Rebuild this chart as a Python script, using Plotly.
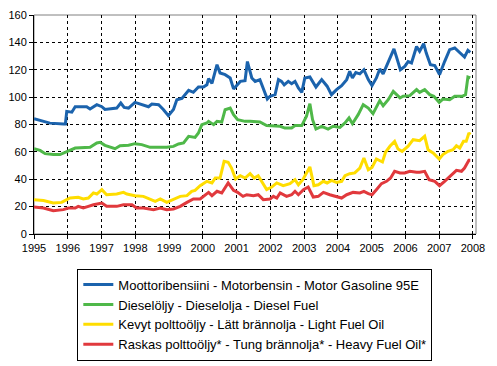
import plotly.graph_objects as go

# Decimal-year positions and values (index)
gas_x = [1995.00, 1995.28, 1995.47, 1995.87, 1995.93, 1995.97, 1996.12, 1996.22, 1996.56, 1996.66,
         1996.86, 1997.01, 1997.10, 1997.45, 1997.57, 1997.67, 1997.80, 1997.99, 1998.24, 1998.39,
         1998.49, 1998.69, 1998.83, 1998.98, 1999.13, 1999.23, 1999.38, 1999.58, 1999.72, 1999.87,
         2000.02, 2000.12, 2000.17, 2000.27, 2000.42, 2000.51, 2000.66, 2000.81, 2000.91, 2001.03,
         2001.11, 2001.25, 2001.32, 2001.45, 2001.55, 2001.69, 2001.79, 2001.91, 2001.99, 2002.14,
         2002.24, 2002.33, 2002.41, 2002.53, 2002.63, 2002.73, 2002.83, 2002.93, 2003.02, 2003.17,
         2003.35, 2003.52, 2003.68, 2003.81, 2003.96, 2004.11, 2004.26, 2004.35, 2004.43, 2004.53,
         2004.65, 2004.77, 2004.90, 2005.01, 2005.14, 2005.24, 2005.34, 2005.49, 2005.66, 2005.73,
         2005.85, 2005.98, 2006.08, 2006.18, 2006.33, 2006.42, 2006.54, 2006.62, 2006.74, 2006.87,
         2007.01, 2007.16, 2007.31, 2007.46, 2007.61, 2007.75, 2007.85, 2007.92]
gas_y = [84.3, 82.3, 81.0, 80.4, 80.4, 89.6, 89.0, 93.0, 93.0, 91.3,
         94.5, 93.0, 91.0, 92.0, 95.7, 92.5, 92.0, 96.2, 94.5, 93.0,
         95.0, 94.5, 91.0, 86.5, 91.0, 98.0, 99.0, 105.0, 103.5, 107.4,
         107.4, 109.0, 113.5, 110.0, 123.7, 117.6, 116.4, 114.0, 106.0, 109.0,
         111.5, 112.0, 126.0, 114.0, 111.5, 112.8, 106.7, 98.6, 100.6, 101.8,
         112.8, 111.5, 109.0, 111.5, 109.8, 111.5, 106.7, 103.5, 114.0, 114.7,
         107.4, 112.8, 108.0, 101.8, 105.5, 108.4, 112.8, 118.8, 114.0, 118.0,
         117.0, 120.0, 112.8, 108.4, 114.0, 120.6, 117.0, 126.0, 135.2, 129.8,
         120.0, 122.5, 126.0, 125.0, 137.0, 133.5, 139.0, 132.0, 123.7, 123.0,
         116.4, 126.0, 134.7, 135.9, 132.2, 129.3, 134.2, 132.7]

diesel_x = [1995.00, 1995.18, 1995.33, 1995.57, 1995.77, 1995.97, 1996.22, 1996.66, 1996.86, 1996.96,
            1997.10, 1997.40, 1997.55, 1997.80, 1997.99, 1998.19, 1998.44, 1998.93, 1999.13, 1999.28,
            1999.43, 1999.58, 1999.77, 1999.87, 1999.97, 2000.12, 2000.17, 2000.32, 2000.42, 2000.56,
            2000.66, 2000.81, 2000.91, 2001.03, 2001.25, 2001.40, 2001.69, 2001.89, 2002.29, 2002.43,
            2002.63, 2002.73, 2002.93, 2003.07, 2003.17, 2003.25, 2003.35, 2003.52, 2003.71, 2003.86,
            2004.06, 2004.21, 2004.33, 2004.43, 2004.60, 2004.75, 2004.90, 2005.04, 2005.16, 2005.24,
            2005.34, 2005.49, 2005.64, 2005.84, 2005.93, 2006.13, 2006.33, 2006.42, 2006.57, 2006.72,
            2006.84, 2007.00, 2007.11, 2007.31, 2007.46, 2007.68, 2007.78, 2007.85, 2007.92]
diesel_y = [62.3, 61.1, 58.7, 58.0, 58.0, 60.4, 62.8, 63.3, 66.5, 67.0,
            64.8, 62.3, 64.5, 64.8, 66.0, 65.3, 63.3, 63.3, 64.0, 65.8,
            66.5, 71.4, 70.6, 73.8, 79.9, 81.1, 82.3, 79.9, 82.3, 81.8,
            90.8, 92.0, 87.2, 83.5, 82.3, 82.3, 81.8, 79.2, 78.7, 77.4,
            77.4, 79.2, 79.2, 86.0, 95.2, 83.5, 76.7, 78.7, 76.7, 78.7,
            77.9, 81.1, 84.8, 80.6, 87.2, 94.5, 92.0, 87.9, 93.7, 97.4,
            93.7, 98.1, 104.2, 99.4, 100.6, 101.1, 105.5, 103.5, 105.5, 101.8,
            100.6, 96.2, 98.6, 98.1, 100.6, 100.6, 101.8, 114.7, 114.0]

light_x = [1995.00, 1995.28, 1995.57, 1995.82, 1995.97, 1996.07, 1996.31, 1996.46, 1996.61, 1996.76,
           1996.86, 1997.01, 1997.15, 1997.45, 1997.65, 1997.75, 1997.99, 1998.24, 1998.59, 1998.74,
           1998.93, 1999.13, 1999.33, 1999.53, 1999.67, 1999.77, 1999.92, 2000.12, 2000.27, 2000.37,
           2000.51, 2000.63, 2000.75, 2000.85, 2000.97, 2001.11, 2001.25, 2001.40, 2001.52, 2001.64,
           2001.74, 2001.89, 2002.04, 2002.19, 2002.38, 2002.58, 2002.73, 2002.83, 2002.96, 2003.07,
           2003.17, 2003.29, 2003.42, 2003.57, 2003.68, 2003.81, 2003.96, 2004.11, 2004.21, 2004.35,
           2004.50, 2004.65, 2004.77, 2004.90, 2005.01, 2005.14, 2005.32, 2005.41, 2005.54, 2005.68,
           2005.78, 2005.90, 2006.08, 2006.23, 2006.42, 2006.57, 2006.67, 2006.82, 2007.00, 2007.11,
           2007.26, 2007.41, 2007.51, 2007.61, 2007.72, 2007.80, 2007.88, 2007.92]
light_y = [25.1, 24.4, 22.6, 23.1, 25.1, 26.3, 26.8, 25.6, 26.3, 30.0,
           29.2, 32.4, 28.7, 29.2, 30.4, 29.2, 28.0, 27.5, 23.9, 25.6,
           23.1, 25.1, 27.5, 28.0, 31.2, 31.9, 35.3, 38.5, 37.3, 40.9,
           40.9, 53.1, 52.4, 48.2, 40.2, 42.6, 40.9, 44.1, 40.9, 42.6,
           38.5, 32.4, 34.3, 37.3, 35.3, 36.8, 39.7, 36.0, 39.7, 44.1,
           49.0, 35.3, 36.0, 38.5, 37.3, 39.2, 37.7, 38.5, 42.6, 44.1,
           44.6, 48.2, 55.5, 47.0, 48.7, 54.8, 52.6, 59.7, 64.1, 67.7,
           62.1, 60.4, 64.1, 68.9, 68.2, 71.4, 61.6, 59.2, 54.8, 58.0,
           60.4, 61.6, 64.5, 62.8, 67.7, 67.7, 73.8, 72.6]

heavy_x = [1995.00, 1995.28, 1995.57, 1995.87, 1996.02, 1996.22, 1996.31, 1996.46, 1996.61, 1996.76,
           1997.01, 1997.15, 1997.45, 1997.65, 1997.90, 1998.04, 1998.24, 1998.54, 1998.74, 1998.93,
           1999.13, 1999.33, 1999.53, 1999.72, 1999.92, 2000.02, 2000.17, 2000.27, 2000.42, 2000.56,
           2000.75, 2000.91, 2001.03, 2001.19, 2001.30, 2001.50, 2001.64, 2001.79, 2001.89, 2001.99,
           2002.09, 2002.19, 2002.29, 2002.48, 2002.63, 2002.73, 2002.83, 2002.98, 2003.12, 2003.27,
           2003.42, 2003.57, 2003.76, 2003.96, 2004.11, 2004.26, 2004.45, 2004.65, 2004.77, 2004.90,
           2005.01, 2005.14, 2005.29, 2005.44, 2005.56, 2005.68, 2005.84, 2005.98, 2006.13, 2006.33,
           2006.42, 2006.57, 2006.70, 2006.87, 2007.01, 2007.16, 2007.31, 2007.51, 2007.66, 2007.75,
           2007.88, 2007.92]
heavy_y = [19.7, 19.0, 17.0, 17.8, 19.0, 19.0, 20.2, 19.0, 20.2, 21.4,
           22.6, 20.2, 20.2, 21.4, 21.4, 19.0, 19.0, 17.8, 19.0, 17.8,
           18.3, 20.2, 23.1, 25.6, 25.6, 27.5, 30.4, 28.0, 31.2, 30.0,
           37.3, 31.9, 30.4, 27.5, 28.7, 28.0, 28.7, 25.1, 25.6, 25.6,
           27.5, 26.3, 30.0, 27.5, 28.7, 31.2, 28.7, 32.4, 34.3, 27.0,
           27.5, 30.4, 28.7, 27.5, 26.3, 28.7, 30.4, 30.0, 31.2, 29.5,
           28.7, 32.4, 36.8, 38.5, 40.9, 45.8, 44.6, 44.6, 45.8, 45.1,
           45.1, 45.8, 39.7, 38.5, 35.3, 38.5, 42.1, 46.5, 45.8, 48.2,
           53.8, 53.8]

series_names = [
    "Moottoribensiini - Motorbensin - Motor Gasoline 95E",
    "Dieselöljy - Dieselolja - Diesel Fuel",
    "Kevyt polttoöljy - Lätt brännolja - Light Fuel Oil",
    "Raskas polttoöljy* - Tung brännolja* - Heavy Fuel Oil*",
]
series_colors = ["#1b63ad", "#4fb849", "#ffdd00", "#e1393d"]
year_ticks = list(range(1995, 2009))
y_ticks = list(range(0, 161, 20))

fig = go.Figure()
for i, (xs, ys) in enumerate([(gas_x, gas_y), (diesel_x, diesel_y),
                               (light_x, light_y), (heavy_x, heavy_y)]):
    fig.add_trace(go.Scatter(
        x=xs, y=ys, mode="lines", name=series_names[i],
        line=dict(color=series_colors[i], width=3),
        legendgroup=f"g{i}",
    ))

font_family = "Liberation Sans"

fig.update_layout(
    width=497, height=366,
    margin=dict(l=34, r=21, t=15, b=132, autoexpand=False),
    paper_bgcolor="white", plot_bgcolor="white",
    font=dict(family=font_family, size=11, color="black"),
    showlegend=True,
    legend=dict(
        x=0.098, y=-0.158, xanchor="left", yanchor="top",
        bordercolor="black", borderwidth=1, bgcolor="white",
        font=dict(family=font_family, size=13, color="black"),
        tracegroupgap=0, itemwidth=30,
    ),
    shapes=[dict(type="rect", xref="paper", yref="paper", x0=0, x1=1, y0=0, y1=1,
                 line=dict(color="#808080", width=1), layer="below")],
)
fig.update_xaxes(
    range=[1995, 2008.09], tickvals=year_ticks, ticktext=[str(y) for y in year_ticks],
    showgrid=True, gridcolor="black", griddash="3px,3px", gridwidth=1,
    showline=True, linecolor="black", linewidth=1, automargin=False,
    ticks="outside", ticklen=4, tickcolor="black", zeroline=False,
    tickfont=dict(size=11),
)
fig.update_yaxes(
    range=[0, 160], tickvals=y_ticks,
    showgrid=True, gridcolor="black", griddash="3px,3px", gridwidth=1,
    showline=True, linecolor="black", linewidth=1, automargin=False,
    ticks="outside", ticklen=4, tickcolor="black", zeroline=False,
    tickfont=dict(size=11),
)

fig.write_html("out.html", config={"displayModeBar": False},
               post_script="document.body.style.margin='0';document.body.style.overflow='hidden';")
